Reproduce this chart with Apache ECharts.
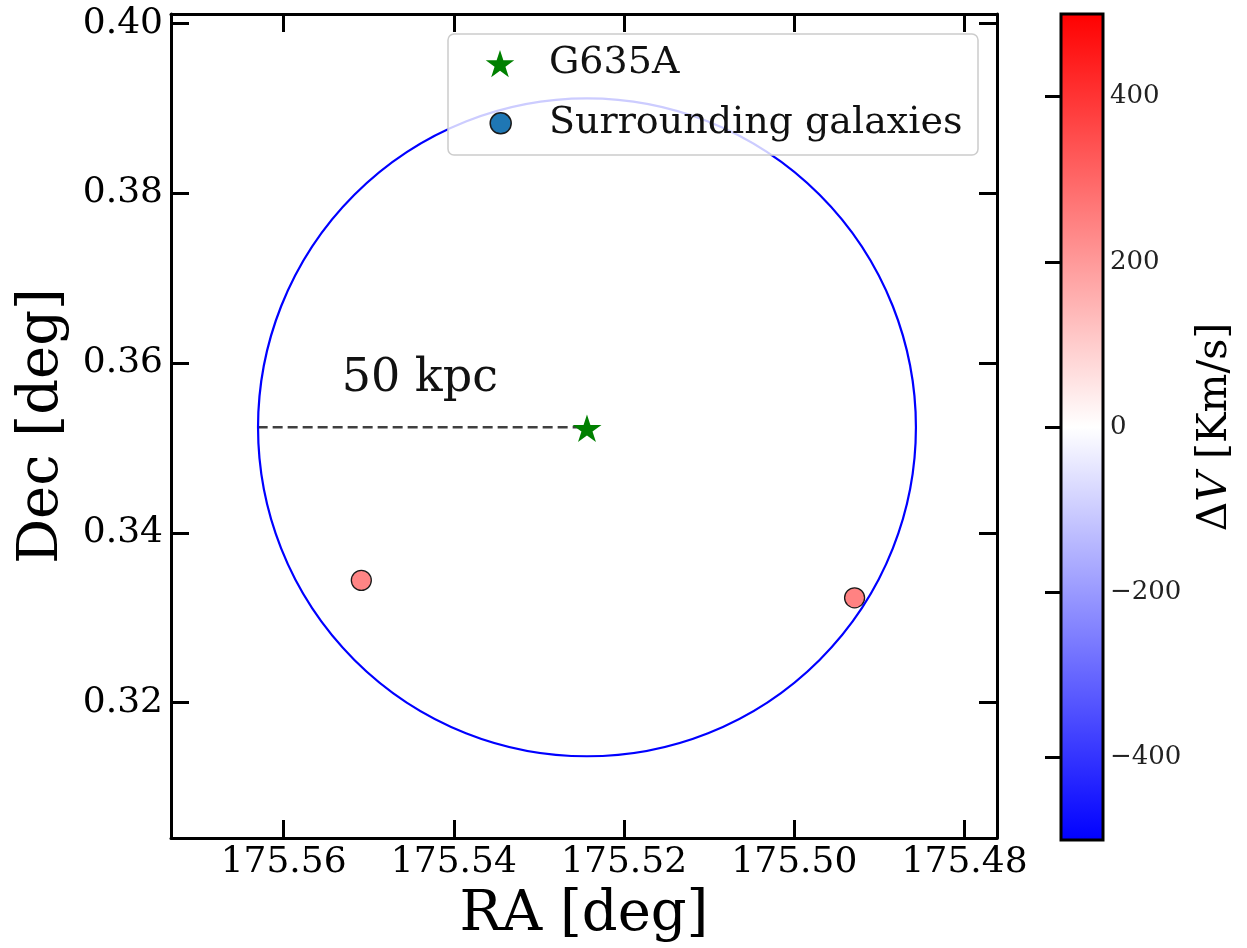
<!DOCTYPE html>
<html>
<head>
<meta charset="utf-8">
<script src="https://cdn.jsdelivr.net/npm/echarts@6/dist/echarts.min.js"></script>
<style>html,body{margin:0;padding:0;background:#fff;}#c{width:1247px;height:948px;}</style>
</head>
<body>
<div id="c"></div>
<script>
// ---- data ----
const raTicks = [175.48, 175.50, 175.52, 175.54, 175.56];
const decTicks = [0.32, 0.34, 0.36, 0.38, 0.40];
const dvTicks = [-400, -200, 0, 200, 400];
const raRange = [175.47619, 175.57323];
const decRange = [0.30406, 0.40109];
const dvRange = [-500, 500];
const targetName = 'G635A';
const targetRA = [175.52436];
const targetDec = [0.35242];
const galName = 'Surrounding galaxies';
const galRA = [175.55087, 175.49292];
const galDec = [0.33440, 0.33234];
const galDV = [240, 245];
const circleRadiusDeg = [0.03869];
const radiusLabel = '50 kpc';
const radiusLabelPos = [175.54400, 0.35810];
const cmapColors = ['#0000ff', '#ffffff', '#ff0000'];

const FONT = 'DejaVu Serif';
const starPath = 'path://M50 0 L61.23 34.55 L97.55 34.55 L68.17 55.9 L79.39 90.45 L50 69.1 L20.61 90.45 L31.83 55.9 L2.45 34.55 L38.77 34.55 Z';
const fmt2 = v => Number(v).toFixed(2);
const fmtDV = v => (v < 0 ? '\u2212' + Math.abs(v) : String(v));

function starPoints(cx, cy, R) {
  const pts = [];
  for (let k = 0; k < 10; k++) {
    const a = (-90 + k * 36) * Math.PI / 180;
    const rr = k % 2 === 0 ? R : R * 0.382;
    pts.push([cx + rr * Math.cos(a), cy + rr * Math.sin(a)]);
  }
  return pts;
}

const chart = echarts.init(document.getElementById('c'), null, {renderer: 'canvas'});

const AXW = 3;
function mainAxis(extra) {
  return Object.assign({
    gridIndex: 0, type: 'value', splitLine: {show: false},
    axisLine: {show: true, onZero: false, lineStyle: {color: '#000', width: AXW}},
  }, extra);
}

const option = {
  backgroundColor: '#fff',
  animation: false,
  grid: [
    {left: 171, top: 14, width: 826, height: 826, containLabel: false},
    {left: 1061, top: 14, width: 42, height: 826, containLabel: false}
  ],
  xAxis: [
    mainAxis({
      inverse: true, min: raRange[0], max: raRange[1], position: 'bottom',
      name: 'RA [deg]', nameLocation: 'middle', nameGap: 49,
      nameTextStyle: {fontSize: 56, fontFamily: FONT, color: '#000'},
      axisTick: {show: true, inside: true, length: 18, customValues: raTicks, lineStyle: {color: '#000', width: AXW}},
      axisLabel: {customValues: raTicks, formatter: fmt2, fontSize: 36, fontFamily: FONT, color: '#000', margin: 7}
    }),
    mainAxis({
      inverse: true, min: raRange[0], max: raRange[1], position: 'top',
      axisTick: {show: true, inside: true, length: 18, customValues: raTicks, lineStyle: {color: '#000', width: AXW}},
      axisLabel: {show: false}
    }),
    {gridIndex: 1, type: 'value', min: 0, max: 1, show: false}
  ],
  yAxis: [
    mainAxis({
      min: decRange[0], max: decRange[1], position: 'left',
      name: 'Dec [deg]', nameLocation: 'middle', nameGap: 101, nameRotate: 90,
      nameTextStyle: {fontSize: 56, fontFamily: FONT, color: '#000'},
      axisTick: {show: true, inside: true, length: 18, customValues: decTicks, lineStyle: {color: '#000', width: AXW}},
      axisLabel: {customValues: decTicks, formatter: fmt2, fontSize: 36, fontFamily: FONT, color: '#000', margin: 8}
    }),
    mainAxis({
      min: decRange[0], max: decRange[1], position: 'right',
      axisTick: {show: true, inside: true, length: 18, customValues: decTicks, lineStyle: {color: '#000', width: AXW}},
      axisLabel: {show: false}
    }),
    {
      gridIndex: 1, type: 'value', min: dvRange[0], max: dvRange[1], position: 'right',
      splitLine: {show: false},
      axisLine: {show: false},
      axisTick: {show: true, inside: true, length: 16, customValues: dvTicks, lineStyle: {color: '#000', width: AXW}},
      axisLabel: {customValues: dvTicks, formatter: fmtDV, fontSize: 26, fontFamily: FONT, color: '#222', margin: 7},
      name: '{n|\u0394}{i|V}{n| [Km/s]}', nameLocation: 'middle', nameGap: 92, nameRotate: 90,
      nameTextStyle: {
        fontSize: 41, fontFamily: FONT, color: '#000',
        rich: {
          n: {fontSize: 41, fontFamily: FONT, color: '#000'},
          i: {fontSize: 41, fontFamily: FONT, fontStyle: 'italic', color: '#000'}
        }
      }
    }
  ],
  visualMap: [{
    type: 'continuous', show: false, seriesIndex: 1, dimension: 2,
    min: dvRange[0], max: dvRange[1], inRange: {color: cmapColors}
  }],
  series: [
    {
      type: 'line', xAxisIndex: 0, yAxisIndex: 0, silent: true, symbol: 'none', z: 2,
      data: [[targetRA[0] + circleRadiusDeg[0], targetDec[0]], [targetRA[0], targetDec[0]]],
      lineStyle: {color: '#404040', width: 2.5, type: [10, 5]}
    },
    {
      type: 'scatter', name: galName, xAxisIndex: 0, yAxisIndex: 0, z: 3,
      symbol: 'circle', symbolSize: 20,
      data: galRA.map((r, i) => [r, galDec[i], galDV[i]]),
      itemStyle: {borderColor: '#1a1a1a', borderWidth: 1.3, opacity: 1}
    },
    {
      type: 'custom', xAxisIndex: 0, yAxisIndex: 0, z: 4, silent: true,
      data: [[targetRA[0], targetDec[0], circleRadiusDeg[0]]],
      renderItem: function (params, api) {
        const c = api.coord([api.value(0), api.value(1)]);
        const s = api.size([api.value(2), api.value(2)]);
        return {
          type: 'circle',
          shape: {cx: c[0], cy: c[1], r: (s[0] + s[1]) / 2},
          style: {fill: null, stroke: '#0000ff', lineWidth: 2.2}
        };
      }
    },
    {
      type: 'scatter', name: targetName, xAxisIndex: 0, yAxisIndex: 0, z: 5,
      symbol: starPath, symbolSize: [29, 27.6], symbolOffset: [0, 1],
      data: targetRA.map((r, i) => [r, targetDec[i]]),
      itemStyle: {color: '#008000', opacity: 1}
    },
    {
      type: 'custom', xAxisIndex: 0, yAxisIndex: 0, z: 5, silent: true,
      data: [[radiusLabelPos[0], radiusLabelPos[1]]],
      renderItem: function (params, api) {
        const c = api.coord([api.value(0), api.value(1)]);
        return {
          type: 'text',
          style: {x: c[0], y: c[1], text: radiusLabel, fill: '#111', font: '46px "' + FONT + '"',
                  align: 'center', verticalAlign: 'middle'}
        };
      }
    },
    {
      type: 'custom', xAxisIndex: 2, yAxisIndex: 2, z: 2, silent: true,
      data: [[0, dvRange[0], 1, dvRange[1]]],
      renderItem: function (params, api) {
        const p0 = api.coord([api.value(0), api.value(1)]);
        const p1 = api.coord([api.value(2), api.value(3)]);
        return {
          type: 'rect',
          shape: {x: p0[0], y: p1[1], width: p1[0] - p0[0], height: p0[1] - p1[1]},
          style: {
            fill: new echarts.graphic.LinearGradient(0, 1, 0, 0, [
              {offset: 0, color: cmapColors[0]},
              {offset: 0.5, color: cmapColors[1]},
              {offset: 1, color: cmapColors[2]}
            ]),
            stroke: '#000', lineWidth: AXW
          }
        };
      }
    }
  ],
  graphic: {
    elements: [
      {type: 'rect', z: 100, shape: {x: 448, y: 34, width: 530, height: 121, r: 6},
       style: {fill: 'rgba(255,255,255,0.8)', stroke: '#cccccc', lineWidth: 1.5}},
      {type: 'polygon', z: 101, shape: {points: starPoints(500, 65, 15)}, style: {fill: '#008000'}},
      {type: 'circle', z: 101, shape: {cx: 500.7, cy: 123.3, r: 10.5},
       style: {fill: '#1f77b4', stroke: '#1a1a1a', lineWidth: 1.5}},
      {type: 'text', z: 101, x: 549, y: 63.5,
       style: {text: targetName, font: '38px "' + FONT + '"', fill: '#111', verticalAlign: 'middle', align: 'left'}},
      {type: 'text', z: 101, x: 549, y: 123.5,
       style: {text: galName, font: '38px "' + FONT + '"', fill: '#111', verticalAlign: 'middle', align: 'left'}}
    ]
  }
};
chart.setOption(option);
</script>
</body>
</html>
